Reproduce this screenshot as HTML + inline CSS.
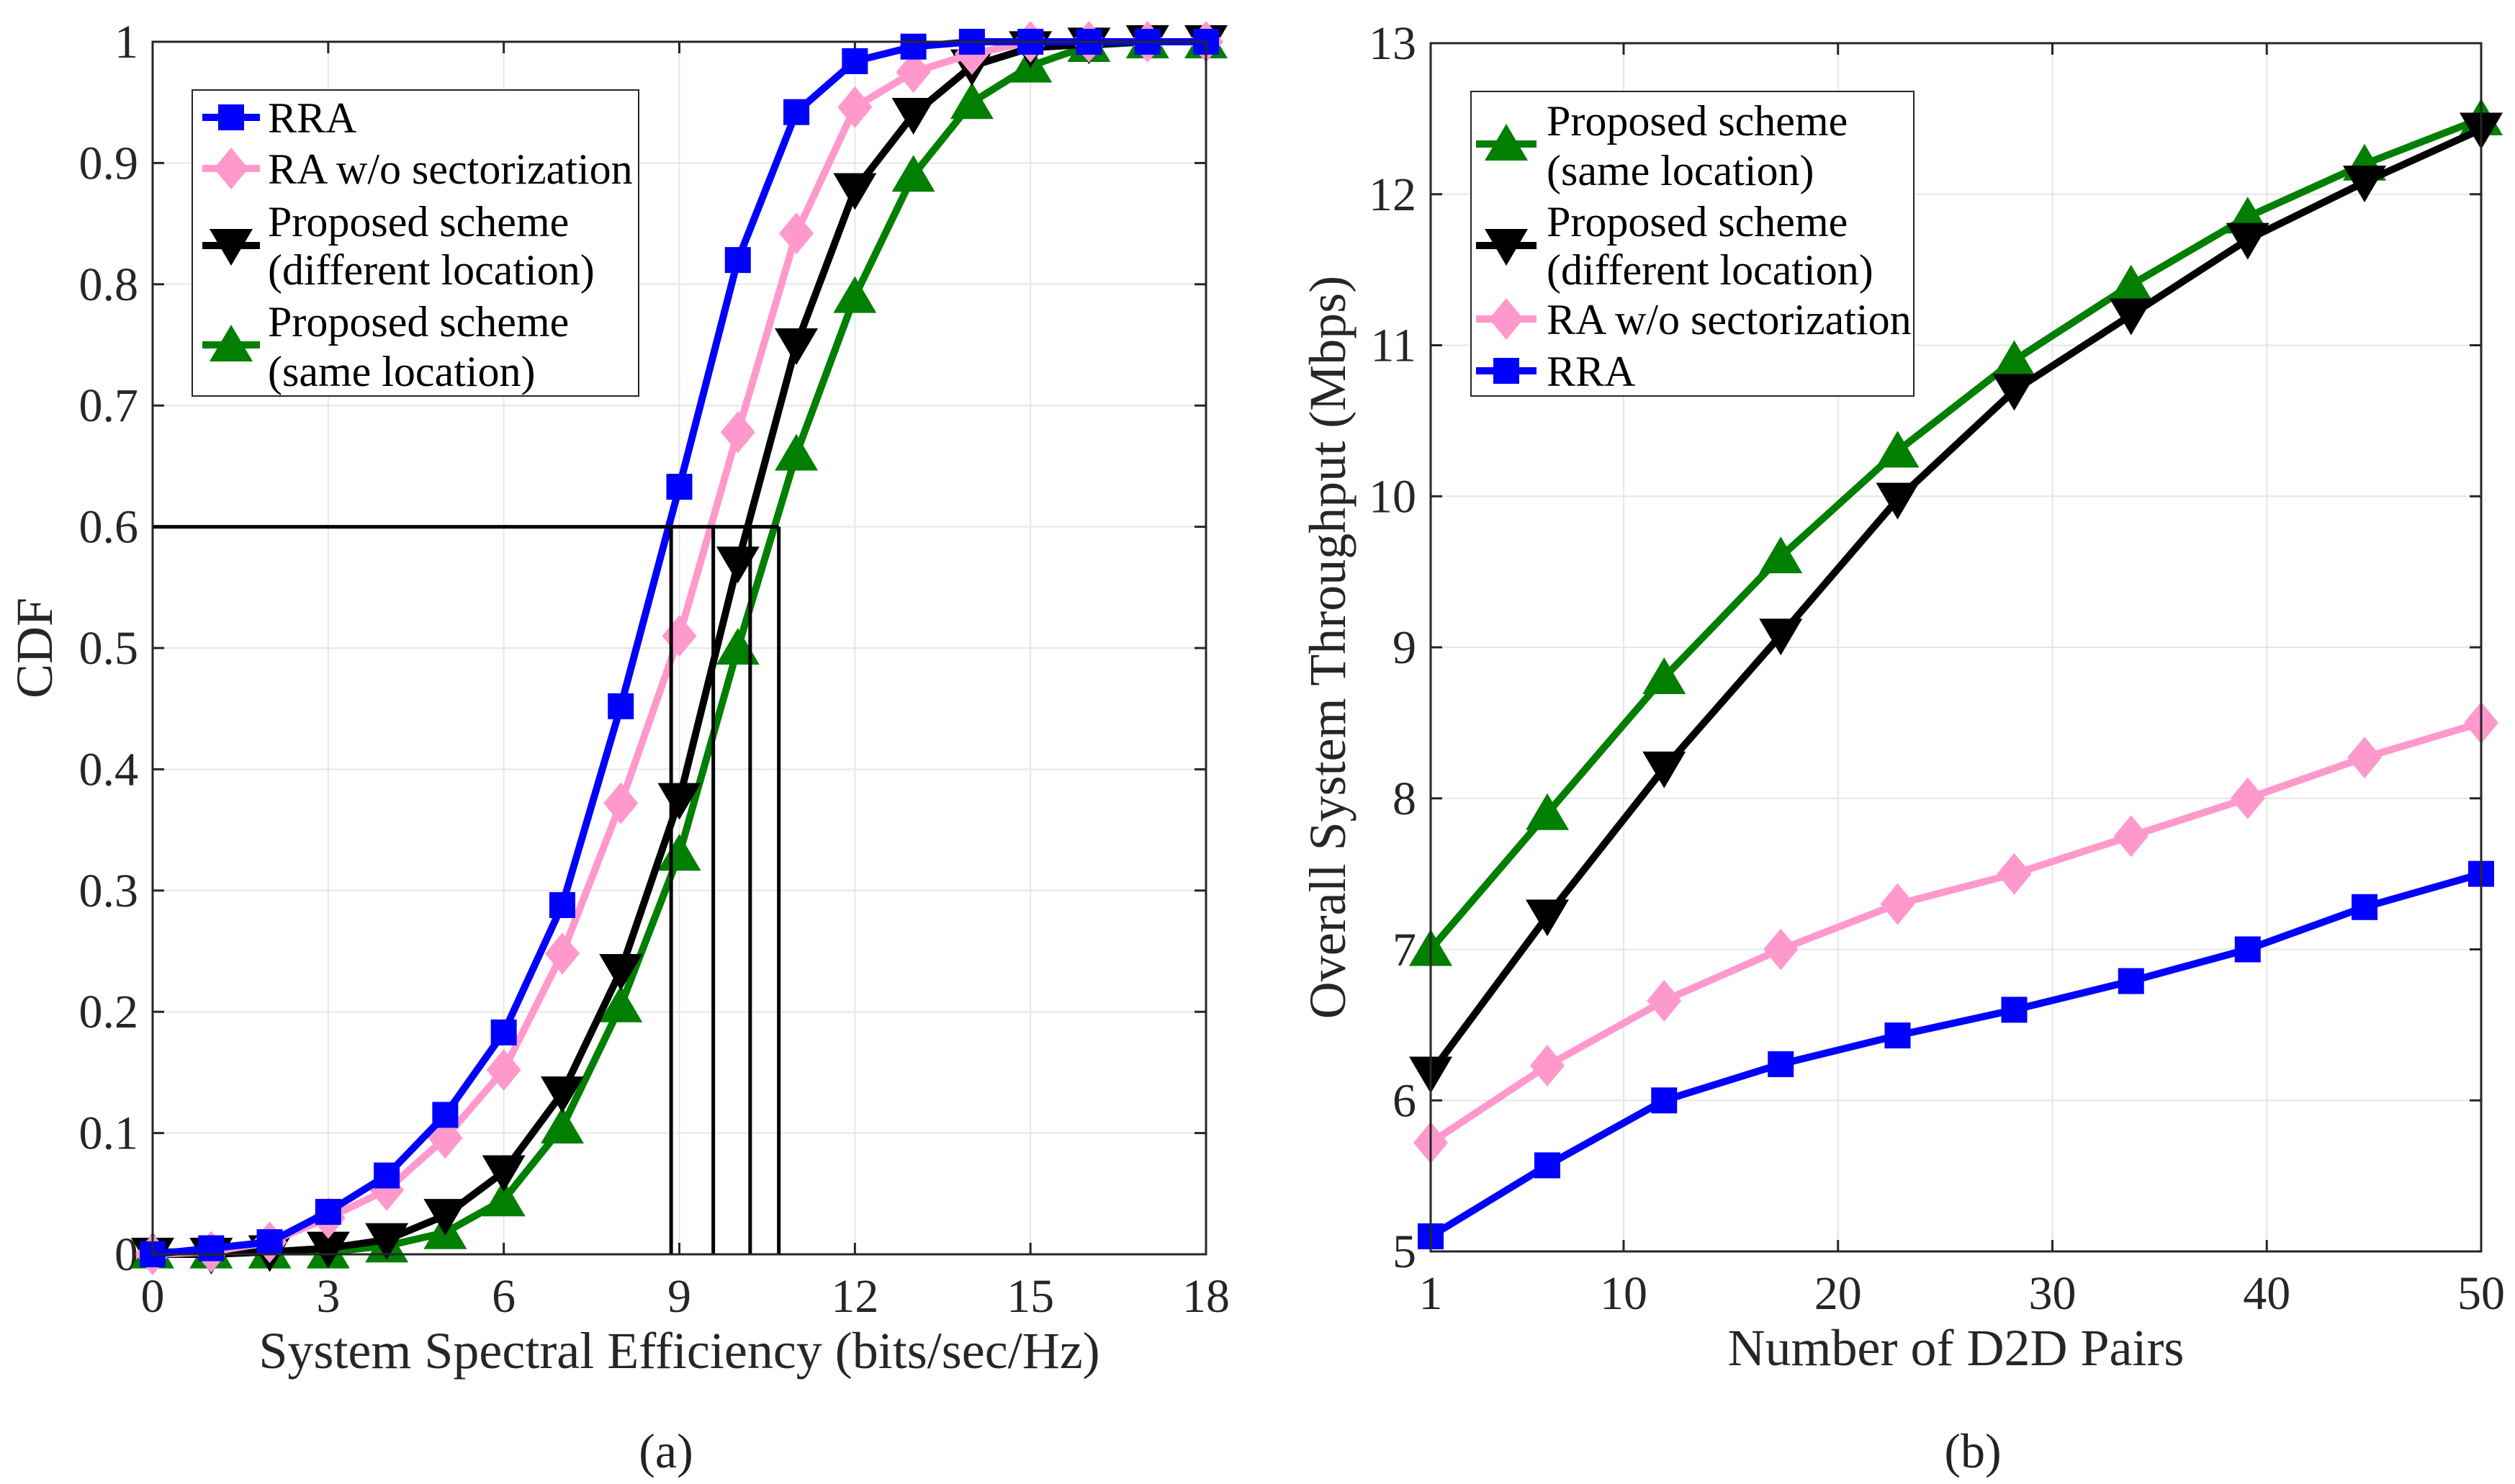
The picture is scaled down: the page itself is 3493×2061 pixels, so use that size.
<!DOCTYPE html>
<html><head><meta charset="utf-8"><style>
html,body{margin:0;padding:0;background:#fff}
svg{display:block;font-family:"Liberation Serif",serif}
</style></head><body>
<svg id="svg" width="3493" height="2061" viewBox="0 0 3493 2061" xmlns="http://www.w3.org/2000/svg">
<g id="plotA"></g>
<g id="plotB"></g>
<text x="925" y="2038" font-size="68" text-anchor="middle" fill="#222">(a)</text>
<text x="2740" y="2038" font-size="68" text-anchor="middle" fill="#222">(b)</text>
</svg>
<script>
// ---- Chart A data ----
const cdfX = [0,1,2,3,4,5,6,7,8,9,10,11,12,13,14,15,16,17,18];
const cdfRRA = [0,0.005,0.01,0.035,0.065,0.115,0.183,0.288,0.452,0.633,0.82,0.942,0.984,0.996,1,1,1,1,1];
const cdfRA = [0,0.002,0.01,0.03,0.053,0.096,0.152,0.248,0.372,0.51,0.678,0.842,0.946,0.975,0.99,1,1,1,1];
const cdfDiff = [0,0,0.002,0.005,0.012,0.032,0.068,0.133,0.234,0.375,0.57,0.75,0.878,0.94,0.98,0.995,0.998,1,1];
const cdfSame = [0.002,0.002,0.002,0.002,0.007,0.018,0.045,0.105,0.205,0.33,0.5,0.66,0.79,0.89,0.95,0.98,0.997,1,1];
const refLevel = 0.6;
const refX = [8.86, 9.58, 10.21, 10.7];
const aXTicks = [0,3,6,9,12,15,18];
const aYTicks = [0,0.1,0.2,0.3,0.4,0.5,0.6,0.7,0.8,0.9,1];
const aYTickLabels = ["0","0.1","0.2","0.3","0.4","0.5","0.6","0.7","0.8","0.9","1"];
// ---- Chart B data ----
const pairsX = [1,6.44,11.89,17.33,22.78,28.22,33.67,39.11,44.56,50];
const thrSame = [7.0,7.9,8.8,9.6,10.3,10.9,11.4,11.85,12.2,12.5];
const thrDiff = [6.18,7.22,8.2,9.08,9.98,10.7,11.2,11.7,12.08,12.43];
const thrRA = [5.72,6.23,6.66,7.0,7.3,7.5,7.75,8.0,8.27,8.5];
const thrRRA = [5.1,5.57,6.0,6.24,6.43,6.6,6.79,7.0,7.28,7.5];
const bXTicks = [1,10,20,30,40,50];
const bYTicks = [5,6,7,8,9,10,11,12,13];

const NS="http://www.w3.org/2000/svg";
function mk(parent,tag,attrs,text){const e=document.createElementNS(NS,tag);for(const k in attrs)e.setAttribute(k,attrs[k]);if(text!==undefined)e.textContent=text;parent.appendChild(e);return e;}
const COL={blue:"#0000ff",pink:"#ff99cc",black:"#000000",green:"#007f00"};

function marker(g,type,x,y,color){
  let e;
  if(type==="square"){e=mk(g,"rect",{x:x-18,y:y-18,width:36,height:36,fill:color});}
  else if(type==="diamond"){e=mk(g,"polygon",{points:`${x},${y-29} ${x+24},${y} ${x},${y+29} ${x-24},${y}`,fill:color});}
  else if(type==="down"){e=mk(g,"polygon",{points:`${x-30},${y-23} ${x+30},${y-23} ${x},${y+28}`,fill:color});}
  else {e=mk(g,"polygon",{points:`${x-30},${y+23} ${x+30},${y+23} ${x},${y-28}`,fill:color});}
  
  
}

function series(g,xs,ys,sx,sy,color,type,name){
  const sg=mk(g,"g",{});
  
  
  const pts=xs.map((x,i)=>sx(x)+","+sy(ys[i])).join(" ");
  const pl=mk(sg,"polyline",{points:pts,fill:"none",stroke:color,"stroke-width":10,"stroke-linejoin":"round"});
  
  
  xs.forEach((x,i)=>marker(sg,type,sx(x),sy(ys[i]),color));
}

function axes(g,L,R,T,B,sx,sy,xt,yt,ytl,xlab,ylab,ylx,prefix){
  xt.forEach(v=>{const x=sx(v);
    const gl=mk(g,"line",{x1:x,y1:T,x2:x,y2:B,stroke:"#e6e6e6","stroke-width":2});
    });
  yt.forEach(v=>{const y=sy(v);
    const gl=mk(g,"line",{x1:L,y1:y,x2:R,y2:y,stroke:"#e6e6e6","stroke-width":2});
    });
  xt.forEach(v=>{const x=sx(v);
    mk(g,"line",{x1:x,y1:B,x2:x,y2:B-16,stroke:"#262626","stroke-width":3});
    mk(g,"line",{x1:x,y1:T,x2:x,y2:T+16,stroke:"#262626","stroke-width":3});
    const t=mk(g,"text",{x:x,y:B+80,"font-size":66,"text-anchor":"middle",fill:"#262626"},String(v));
    });
  yt.forEach((v,i)=>{const y=sy(v);
    mk(g,"line",{x1:L,y1:y,x2:L+16,y2:y,stroke:"#262626","stroke-width":3});
    mk(g,"line",{x1:R,y1:y,x2:R-16,y2:y,stroke:"#262626","stroke-width":3});
    const t=mk(g,"text",{x:L-20,y:y+22,"font-size":66,"text-anchor":"end",fill:"#262626"},ytl?ytl[i]:String(v));
    });
  const xl=mk(g,"text",{x:(L+R)/2,y:B+158,"font-size":72,"text-anchor":"middle",fill:"#262626"},xlab);
  
  const cy=(T+B)/2;
  const yl=mk(g,"text",{x:ylx,y:cy,"font-size":72,"text-anchor":"middle",fill:"#262626",transform:`rotate(-90 ${ylx} ${cy})`},ylab);
  
}
function frame(g,L,R,T,B,prefix){
  const f=mk(g,"rect",{x:L,y:T,width:R-L,height:B-T,fill:"none",stroke:"#262626","stroke-width":3});
  
}
function legend(g,x0,y0,w,h,items,lx1,lx2,tx,prefix){
  const lg=mk(g,"g",{});
  
  
  mk(lg,"rect",{x:x0,y:y0,width:w,height:h,fill:"#fff",stroke:"#262626","stroke-width":2});
  items.forEach(it=>{
    const eg=mk(lg,"g",{});
    
    
    mk(eg,"line",{x1:lx1,y1:it.my,x2:lx2,y2:it.my,stroke:it.c,"stroke-width":10});
    marker(eg,it.t,(lx1+lx2)/2,it.my,it.c);
    it.lines.forEach((s,k)=>mk(eg,"text",{x:tx,y:it.ty[k]+21,"font-size":60,fill:"#000"},s));
  });
}

// ---- Chart A ----
(function(){
  const g=document.getElementById("plotA");
  const L=212,R=1675,T=58,B=1742;
  const sx=v=>L+(v-0)/18*(R-L), sy=v=>B-(v-0)/1*(B-T);
  axes(g,L,R,T,B,sx,sy,aXTicks,aYTicks,aYTickLabels,"System Spectral Efficiency (bits/sec/Hz)","CDF",72,"a");
  series(g,cdfX,cdfSame,sx,sy,COL.green,"up","series-same-location");
  series(g,cdfX,cdfDiff,sx,sy,COL.black,"down","series-different-location");
  series(g,cdfX,cdfRA,sx,sy,COL.pink,"diamond","series-ra-wo-sectorization");
  series(g,cdfX,cdfRRA,sx,sy,COL.blue,"square","series-rra");
  const hl=mk(g,"line",{x1:L,y1:sy(refLevel),x2:sx(refX[refX.length-1]),y2:sy(refLevel),stroke:"#000","stroke-width":5});
  
  refX.forEach(v=>{const vl=mk(g,"line",{x1:sx(v),y1:sy(refLevel),x2:sx(v),y2:B,stroke:"#000","stroke-width":5});
    });
  frame(g,L,R,T,B,"a");
  legend(g,267,125,620,425,[
    {c:COL.blue,t:"square",my:163,ty:[163],lines:["RRA"]},
    {c:COL.pink,t:"diamond",my:234,ty:[234],lines:["RA w/o sectorization"]},
    {c:COL.black,t:"down",my:341,ty:[307,374],lines:["Proposed scheme","(different location)"]},
    {c:COL.green,t:"up",my:479,ty:[446,515],lines:["Proposed scheme","(same location)"]}
  ],281,361,372,"a");
})();
// ---- Chart B ----
(function(){
  const g=document.getElementById("plotB");
  const L=1987,R=3446,T=60,B=1738;
  const sx=v=>L+(v-1)/49*(R-L), sy=v=>B-(v-5)/8*(B-T);
  axes(g,L,R,T,B,sx,sy,bXTicks,bYTicks,null,"Number of D2D Pairs","Overall System Throughput (Mbps)",1868,"b");
  series(g,pairsX,thrRRA,sx,sy,COL.blue,"square","series-rra");
  series(g,pairsX,thrRA,sx,sy,COL.pink,"diamond","series-ra-wo-sectorization");
  series(g,pairsX,thrSame,sx,sy,COL.green,"up","series-same-location");
  series(g,pairsX,thrDiff,sx,sy,COL.black,"down","series-different-location");
  frame(g,L,R,T,B,"b");
  legend(g,2043,127,615,423,[
    {c:COL.green,t:"up",my:200,ty:[167,236],lines:["Proposed scheme","(same location)"]},
    {c:COL.black,t:"down",my:341,ty:[307,374],lines:["Proposed scheme","(different location)"]},
    {c:COL.pink,t:"diamond",my:443,ty:[443],lines:["RA w/o sectorization"]},
    {c:COL.blue,t:"square",my:515,ty:[515],lines:["RRA"]}
  ],2050,2134,2148,"b");
})();
</script>
</body></html>
